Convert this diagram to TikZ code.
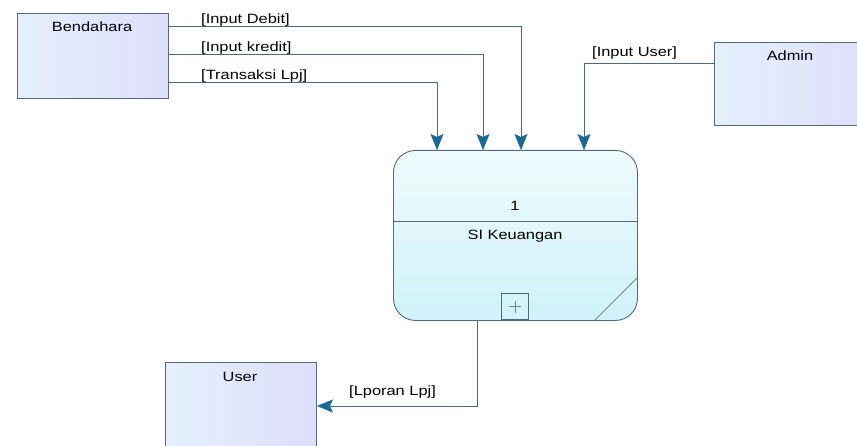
\documentclass[tikz,border=0pt]{standalone}
\usepackage{fontspec}
\setmainfont{Liberation Sans}[FakeStretch=1.22]
\usetikzlibrary{arrows.meta}
\definecolor{linec}{RGB}{75,105,125}
\definecolor{tipc}{RGB}{25,105,145}
\definecolor{boxedge}{RGB}{85,105,125}
\tikzset{
  ent/.style={draw=boxedge, line width=0.9bp, left color={rgb,255:red,228;green,240;blue,252}, right color={rgb,255:red,222;green,222;blue,250}, anchor=north west, inner sep=0pt},
  lbl/.style={font=\fontsize{13.5}{15}\selectfont, inner sep=0pt, text=black},
  flow/.style={draw=linec, line width=1bp, -{Stealth[length=16bp,width=13bp,inset=3bp,color=tipc,fill=tipc,line width=0.5bp]}},
}
\begin{document}
\begin{tikzpicture}[x=1bp,y=-1bp]
\clip (0,0) rectangle (857,446);
\fill[white] (0,0) rectangle (857,446);
% entities
\node[ent, minimum width=151bp, minimum height=85bp] (bend) at (17,13) {};
\node[lbl] (bendt) at (92,27) {Bendahara};
\node[ent, minimum width=160bp, minimum height=83bp] (admin) at (714,42) {};
\node[lbl] (admint) at (790,56) {Admin};
\node[ent, minimum width=151bp, minimum height=100bp] (user) at (165,362) {};
\node[lbl] (usert) at (240,377) {User};
% process
\node[draw=boxedge, line width=0.9bp, rounded corners=22bp, top color={rgb,255:red,238;green,251;blue,253}, bottom color={rgb,255:red,208;green,242;blue,250}, minimum width=244bp, minimum height=170bp, anchor=north west, inner sep=0pt] (proc) at (393,150) {};
\draw[boxedge, line width=0.8bp] (proc.west |- 0,221) -- (proc.east |- 0,221);
\node[lbl] (pnum) at (515,206) {1};
\node[lbl] (pname) at (515,236) {SI Keuangan};
\node[draw=boxedge, line width=0.8bp, minimum width=27bp, minimum height=26bp, anchor=south west, inner sep=0pt] (plus) at (501,320) {};
\draw[gray, line width=0.7bp] ([xshift=-6bp]plus.center) -- ([xshift=6bp]plus.center) ([yshift=-6bp]plus.center) -- ([yshift=6bp]plus.center);
\draw[boxedge!80, line width=0.8bp] (637,278) -- (595,320);
% coordinates
\coordinate (yD) at (0,27);
\coordinate (yK) at (0,55);
\coordinate (yT) at (0,83);
\coordinate (yU) at (0,64);
\coordinate (yL) at (0,406);
\coordinate (inD) at (521,150);
\coordinate (inK) at (483,150);
\coordinate (inT) at (437,150);
\coordinate (inU) at (584,150);
\coordinate (outL) at (477,320);
% flows
\draw[flow] (bend.east |- yD) -| (inD);
\draw[flow] (bend.east |- yK) -| (inK);
\draw[flow] (bend.east |- yT) -| (inT);
\draw[flow] (admin.west |- yU) -| (inU);
\draw[flow] (outL) |- (user.east |- yL);
% labels
\node[lbl, anchor=base west] (lD) at (201,24) {[Input Debit]};
\node[lbl, anchor=base west] (lK) at (201,52) {[Input kredit]};
\node[lbl, anchor=base west] (lT) at (201,80) {[Transaksi Lpj]};
\node[lbl, anchor=base west] (lU) at (592,57) {[Input User]};
\node[lbl, anchor=base west] (lL) at (349,395) {[Lporan Lpj]};
\end{tikzpicture}
\end{document}
